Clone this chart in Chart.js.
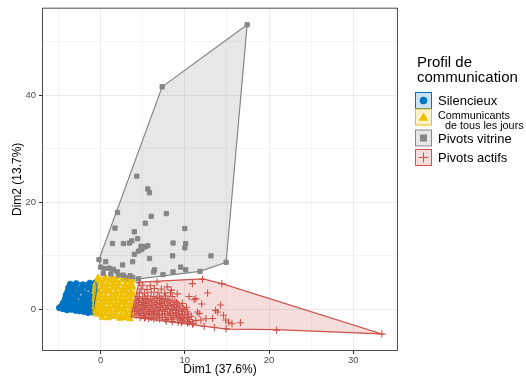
<!DOCTYPE html>
<html>
<head>
<meta charset="utf-8">
<script src="https://cdn.jsdelivr.net/npm/chart.js@4.4.1/dist/chart.umd.min.js"></script>
<style>
  html, body { margin: 0; padding: 0; background: #fff; }
</style>
</head>
<body>
<canvas id="myChart" width="526" height="377"></canvas>
<script>
// groupes (ordre du facteur)
const groupNames = ["Silencieux", "Communicants de tous les jours", "Pivots vitrine", "Pivots actifs"];
const groupColors = ["#0073C2", "#EFC000", "#868686", "#CD534C"];
const groupFills = ["rgba(0,115,194,0.2)", "rgba(239,192,0,0.2)", "rgba(134,134,134,0.2)", "rgba(205,83,76,0.2)"];
const groupShapes = ["circle", "triangle", "rect", "cross"];

// axes
const xTicks = [0, 10, 20, 30];
const xGrid = [-5, 0, 5, 10, 15, 20, 25, 30, 35];
const yTicks = [0, 20, 40];
const yGrid = [0, 10, 20, 30, 40, 50];

// points [Dim1, Dim2]
const silencieuxPts = [
  [-4.9,0.3],[-4.5,0.1],[-4.0,-0.1],[-3.5,0.0],[-3.0,-0.2],[-2.5,-0.3],[-2.0,-0.4],[-1.5,-0.6],[-1.1,-0.5],
  [-4.6,0.7],[-4.2,0.6],[-3.7,0.8],[-3.2,0.5],[-2.7,0.6],[-2.2,0.4],[-1.7,0.5],[-1.2,0.3],[-0.8,0.2],
  [-4.4,1.3],[-3.9,1.4],[-3.4,1.2],[-2.9,1.3],[-2.4,1.1],[-1.9,1.4],[-1.4,1.2],[-0.9,1.0],
  [-4.2,2.0],[-3.7,2.1],[-3.1,1.9],[-2.2,2.0],[-1.6,1.9],[-1.1,2.1],[-0.7,1.8],
  [-4.1,2.7],[-3.6,2.8],[-2.8,2.6],[-1.3,2.7],[-0.8,2.5],
  [-3.9,3.4],[-3.3,3.3],[-2.5,3.5],[-1.9,3.0],[-1.0,3.3],[-0.6,3.6],
  [-3.8,4.1],[-3.1,4.2],[-2.3,3.9],[-1.5,4.1],[-0.9,4.0],
  [-3.6,4.7],[-2.9,4.8],[-2.1,4.6],[-1.3,4.9],[-0.6,5.0]
];
const communicantsPts = [
  [0.2,-1.5],[0.9,-1.6],[1.6,-1.4],[2.3,-1.7],[3.0,-1.6],[3.5,-1.8],
  [-0.5,-0.9],[0.0,-1.0],[0.6,-0.8],[1.2,-1.0],[1.8,-0.9],[2.4,-1.1],[3.0,-0.9],[3.6,-1.0],
  [-0.6,-0.2],[-0.1,-0.3],[0.5,-0.1],[1.1,-0.2],[1.7,-0.3],[2.3,-0.1],[2.9,-0.2],[3.5,-0.3],
  [-0.7,0.5],[-0.2,0.6],[0.4,0.4],[1.0,0.5],[1.6,0.6],[2.2,0.4],[2.8,0.5],[3.4,0.6],[3.8,0.4],
  [-0.6,1.2],[0.0,1.1],[0.6,1.3],[1.2,1.2],[1.8,1.1],[2.4,1.3],[3.0,1.2],[3.6,1.1],
  [-0.7,1.9],[-0.1,2.0],[0.5,1.8],[1.1,1.9],[1.7,2.0],[2.3,1.9],[2.9,1.8],[3.5,2.0],
  [-0.6,2.6],[0.0,2.7],[0.6,2.5],[1.3,2.6],[1.9,2.7],[2.5,2.5],[3.1,2.6],[3.7,2.7],
  [-0.7,3.3],[-0.1,3.2],[0.5,3.4],[1.1,3.3],[1.8,3.2],[2.4,3.4],[3.0,3.3],[3.6,3.2],
  [-0.6,4.0],[0.1,4.1],[0.7,3.9],[1.4,4.0],[2.0,4.1],[2.7,3.9],[3.3,4.0],[3.8,4.2],
  [-0.5,4.7],[0.2,4.8],[0.8,4.6],[1.5,4.7],[2.2,4.8],[2.9,4.6],[3.6,4.7],
  [-0.3,5.4],[0.4,5.5],[1.1,5.3],[1.8,5.4],[2.6,5.5],[3.3,5.3],
  [-0.3,5.9],[0.6,5.9],[1.5,5.8],[3.8,5.5]
];
const vitrinePts = [
  [17.4,53.2],[7.3,41.6],[-0.2,9.3],[0.0,7.9],[3.0,5.9],[4.5,5.7],[11.8,7.1],[14.9,8.8],
  [4.3,24.9],[5.6,22.5],[5.8,21.8],[2.0,18.1],[6.0,17.4],[7.8,17.9],[5.3,16.1],[1.7,15.2],
  [4.0,14.5],[10.0,15.1],[1.4,12.3],[2.7,12.3],[3.4,12.4],[3.7,12.8],[4.4,13.2],[4.8,11.8],
  [5.3,11.7],[5.6,11.9],[4.9,11.2],[4.5,10.9],[4.0,10.3],[8.6,12.4],[10.1,12.3],[10.0,11.5],
  [5.8,9.5],[3.8,8.9],[8.55,10.0],[13.1,10.0],[2.6,8.3],[9.5,7.9],[10.1,7.4],[6.4,7.4],
  [6.3,7.0],[7.4,6.5],[8.6,7.0],[0.6,8.9],[0.4,7.6],[1.0,7.7],[1.5,7.5],[2.0,7.0],
  [2.1,6.4],[2.7,6.4],[3.5,6.3],[3.8,6.0],[1.2,6.6],[0.3,6.7]
];
const actifsPts = [
  [6.7,5.1],[7.9,4.2],[9.1,2.9],[10.5,2.4],[11.1,1.8],[11.3,2.0],[12.7,3.05],[10.9,4.8],
  [9.7,1.1],[14.25,0.8],[13.65,-0.2],[13.9,-0.5],[11.5,-0.5],[11.7,-0.8],[12.5,-1.75],[13.3,-1.7],
  [14.6,-1.1],[14.85,-2.0],[15.2,-2.4],[15.6,-2.7],[16.6,-2.5],[12.3,-3.2],[13.5,-3.4],[14.9,-3.6],
  [8.9,-0.2],[9.3,-1.1],[9.9,-1.7],[10.5,-2.4],[10.9,-2.7],[20.9,-3.9],[33.4,-4.6],[12.1,5.6],
  [14.4,4.8],[4.6,5.0],[11.9,-2.0],[10.2,0.4],[12.0,1.0],[8.4,3.6],
  [5.0,4.5],[5.9,4.4],
  [4.8,3.8],[5.5,3.7],[6.4,3.9],[7.2,3.8],
  [4.6,3.1],[5.2,3.0],[6.0,3.2],[6.8,3.1],[7.6,3.0],[8.3,3.1],
  [4.4,2.4],[5.0,2.3],[5.6,2.5],[6.3,2.4],[7.0,2.3],[7.7,2.5],[8.5,2.4],
  [4.6,2.0],[5.3,2.0],[5.9,1.9],[6.6,2.1],[7.2,2.0],[7.9,1.9],
  [4.3,1.7],[4.9,1.6],[5.5,1.8],[6.1,1.7],[6.8,1.6],[7.4,1.8],[8.1,1.7],[8.8,1.6],
  [4.5,1.3],[5.1,1.3],[5.7,1.4],[6.4,1.3],[7.0,1.2],[7.6,1.4],[8.3,1.3],[9.0,1.3],
  [4.2,1.0],[4.8,0.9],[5.4,1.1],[6.0,1.0],[6.6,0.9],[7.2,1.1],[7.9,1.0],[8.6,0.9],[9.2,1.0],
  [4.4,0.6],[5.0,0.6],[5.6,0.7],[6.2,0.6],[6.8,0.5],[7.4,0.7],[8.1,0.6],[8.7,0.6],[9.4,0.6],
  [4.1,0.3],[4.7,0.2],[5.3,0.4],[5.9,0.3],[6.5,0.2],[7.1,0.4],[7.7,0.3],[8.4,0.2],[9.0,0.3],[9.8,0.2],
  [4.3,-0.1],[4.9,-0.1],[5.5,0.0],[6.1,-0.1],[6.7,-0.2],[7.3,-0.1],[7.9,0.0],[8.6,-0.1],[9.2,-0.1],[10.0,-0.1],
  [4.0,-0.4],[4.6,-0.5],[5.2,-0.3],[5.8,-0.4],[6.4,-0.5],[7.0,-0.3],[7.6,-0.4],[8.2,-0.5],[8.9,-0.6],[9.6,-0.4],[10.3,-0.5],
  [4.5,-0.8],[5.1,-0.8],[5.7,-0.7],[6.3,-0.8],[6.9,-0.9],[7.6,-0.8],[8.3,-0.8],[9.0,-0.9],[9.7,-0.8],[10.4,-0.9],
  [4.2,-1.1],[4.9,-1.2],[5.5,-1.0],[6.1,-1.1],[6.7,-1.2],[7.3,-1.0],[8.0,-1.1],[8.6,-1.2],[9.3,-1.5],[10.0,-1.1],[10.8,-1.3],
  [4.7,-1.5],[5.3,-1.5],[6.0,-1.5],[6.6,-1.6],[7.3,-1.5],[8.0,-1.6],[8.7,-1.5],[9.5,-1.6],[10.3,-1.5],
  [5.2,-1.6],[5.7,-1.7],[6.3,-1.8],[7.0,-1.8],[7.7,-1.9],[8.4,-1.9],[9.1,-1.8],[9.8,-2.0],[10.6,-1.9],[11.3,-2.1],
  [7.8,-2.2],[8.5,-2.3],[9.2,-2.4],[9.7,-2.2],[10.4,-2.3],
  [9.6,-2.5],[10.3,-2.6],[11.0,-2.7]
];

// enveloppes convexes
const silencieuxHull = [[-5.0,0.3],[-3.6,4.8],[-0.6,5.1],[-0.4,4.4],[-0.9,-0.6],[-1.4,-0.8],[-5.0,0.3]];
const communicantsHull = [[-0.8,-0.7],[-0.9,4.5],[-0.4,6.0],[3.9,5.6],[4.0,3.0],[3.6,-1.9],[1.0,-1.3],[-0.8,-0.7]];
const vitrineHull = [[17.4,53.2],[7.3,41.6],[-0.2,9.3],[0.0,7.9],[3.0,5.9],[4.5,5.7],[11.8,7.1],[14.9,8.8],[17.4,53.2]];
const actifsHull = [[3.6,-1.4],[4.55,5.1],[12.15,5.7],[14.4,4.8],[33.4,-4.6],[20.9,-3.8],[15.0,-3.7],[3.6,-1.4]];

const toXY = (arr) => arr.map(p => ({ x: p[0], y: p[1] }));
const groupPts = [silencieuxPts, communicantsPts, vitrinePts, actifsPts];
const groupHulls = [silencieuxHull, communicantsHull, vitrineHull, actifsHull];
const pointSizes = [3.0, 3.7, 3.0, 3.6];

Chart.defaults.font.family = '"Liberation Sans", Arial, sans-serif';

let datasets = [];
groupPts.forEach((pts, i) => {
  datasets.push({
    type: "scatter",
    label: groupNames[i],
    data: toXY(pts),
    pointStyle: groupShapes[i],
    pointRadius: pointSizes[i],
    pointBackgroundColor: groupColors[i],
    pointBorderColor: groupColors[i],
    pointBorderWidth: i === 3 ? 1.1 : 1,
    order: 8 - i,
  });
});
groupHulls.forEach((hull, i) => {
  datasets.push({
    type: "line",
    label: groupNames[i] + " hull",
    data: toXY(hull),
    borderColor: groupColors[i],
    borderWidth: 1.2,
    backgroundColor: groupFills[i],
    fill: "shape",
    pointRadius: 0,
    tension: 0,
    order: 4 - i,
  });
});

// légende dessinée à la main (titre sur 2 lignes + libellé sur 2 lignes)
const legendPlugin = {
  id: "legendeProfil",
  afterDraw(chart) {
    const ctx = chart.ctx;
    ctx.save();
    ctx.fillStyle = "#000";
    ctx.textAlign = "left";
    ctx.textBaseline = "alphabetic";
    ctx.font = '15px "Liberation Sans", Arial, sans-serif';
    ctx.fillText("Profil de", 417, 67);
    ctx.fillText("communication", 417, 81.5);

    const boxes = [92.5, 109, 130, 149.5];
    boxes.forEach((by, i) => {
      ctx.fillStyle = "#fff";
      ctx.fillRect(415.5, by, 16, 16);
      ctx.fillStyle = groupFills[i];
      ctx.fillRect(415.5, by, 16, 16);
      ctx.strokeStyle = groupColors[i];
      ctx.lineWidth = 1;
      ctx.strokeRect(415.5, by, 16, 16);
      const cx = 423.5, cy = by + 8;
      ctx.fillStyle = groupColors[i];
      ctx.strokeStyle = groupColors[i];
      ctx.beginPath();
      if (groupShapes[i] === "circle") {
        ctx.arc(cx, cy, 3.8, 0, Math.PI * 2);
        ctx.fill();
      } else if (groupShapes[i] === "triangle") {
        ctx.moveTo(cx, cy - 4.5);
        ctx.lineTo(cx + 5, cy + 3.8);
        ctx.lineTo(cx - 5, cy + 3.8);
        ctx.closePath();
        ctx.fill();
      } else if (groupShapes[i] === "rect") {
        ctx.fillRect(cx - 3.5, cy - 3.5, 7, 7);
      } else {
        ctx.moveTo(cx - 5, cy);
        ctx.lineTo(cx + 5, cy);
        ctx.moveTo(cx, cy - 5);
        ctx.lineTo(cx, cy + 5);
        ctx.stroke();
      }
    });

    ctx.fillStyle = "#000";
    ctx.font = '13px "Liberation Sans", Arial, sans-serif';
    ctx.fillText(groupNames[0], 438, 105);
    ctx.fillText(groupNames[2], 438, 143);
    ctx.fillText(groupNames[3], 438, 162);
    ctx.font = '10.8px "Liberation Sans", Arial, sans-serif';
    ctx.fillText("Communicants", 438, 119);
    ctx.fillText("de tous les jours", 445, 128.5);
    ctx.restore();
  },
};

// cadre du panneau (theme_bw)
const borderPlugin = {
  id: "cadre",
  afterDatasetsDraw(chart) {
    const a = chart.chartArea;
    const ctx = chart.ctx;
    ctx.save();
    ctx.strokeStyle = "#4d4d4d";
    ctx.lineWidth = 1;
    ctx.strokeRect(a.left - 0.5, a.top - 0.5, a.right - a.left + 1, a.bottom - a.top + 1);
    ctx.restore();
  },
};

const ctx = document.getElementById("myChart").getContext("2d");
const myChart = new Chart(ctx, {
  type: "scatter",
  data: { datasets },
  plugins: [legendPlugin, borderPlugin],
  options: {
    responsive: false,
    devicePixelRatio: 1,
    animation: false,
    layout: { padding: { top: 8, right: 129, left: 0, bottom: 0 } },
    plugins: {
      legend: { display: false },
      tooltip: { enabled: false },
    },
    scales: {
      x: {
        type: "linear",
        min: -6.85,
        max: 35.2,
        afterBuildTicks: (scale) => { scale.ticks = xGrid.map(v => ({ value: v })); },
        afterFit: (scale) => { scale.height = 27; },
        border: { display: false },
        grid: {
          color: (c) => xTicks.includes(c.tick && c.tick.value) ? "#ebebeb" : "#f4f4f4",
          tickColor: (c) => xTicks.includes(c.tick && c.tick.value) ? "#333333" : "rgba(0,0,0,0)",
          tickLength: 4,
        },
        ticks: {
          autoSkip: false,
          maxRotation: 0,
          padding: 1,
          color: "#4d4d4d",
          font: { size: 9.5 },
          callback: (v) => xTicks.includes(v) ? String(v) : "",
        },
        title: {
          display: true,
          text: "Dim1 (37.6%)",
          color: "#000",
          font: { size: 12 },
          padding: { top: 0, bottom: 0 },
        },
      },
      y: {
        type: "linear",
        min: -7.6,
        max: 56.2,
        afterBuildTicks: (scale) => { scale.ticks = yGrid.map(v => ({ value: v })); },
        afterFit: (scale) => { scale.width = 43; },
        border: { display: false },
        grid: {
          color: (c) => yTicks.includes(c.tick && c.tick.value) ? "#ebebeb" : "#f4f4f4",
          tickColor: (c) => yTicks.includes(c.tick && c.tick.value) ? "#333333" : "rgba(0,0,0,0)",
          tickLength: 4,
        },
        ticks: {
          autoSkip: false,
          padding: 3,
          color: "#4d4d4d",
          font: { size: 9.5 },
          callback: (v) => yTicks.includes(v) ? String(v) : "",
        },
        title: {
          display: true,
          text: "Dim2 (13.7%)",
          color: "#000",
          font: { size: 12 },
          padding: { top: 10, bottom: 0 },
        },
      },
    },
  },
});
</script>
</body>
</html>
